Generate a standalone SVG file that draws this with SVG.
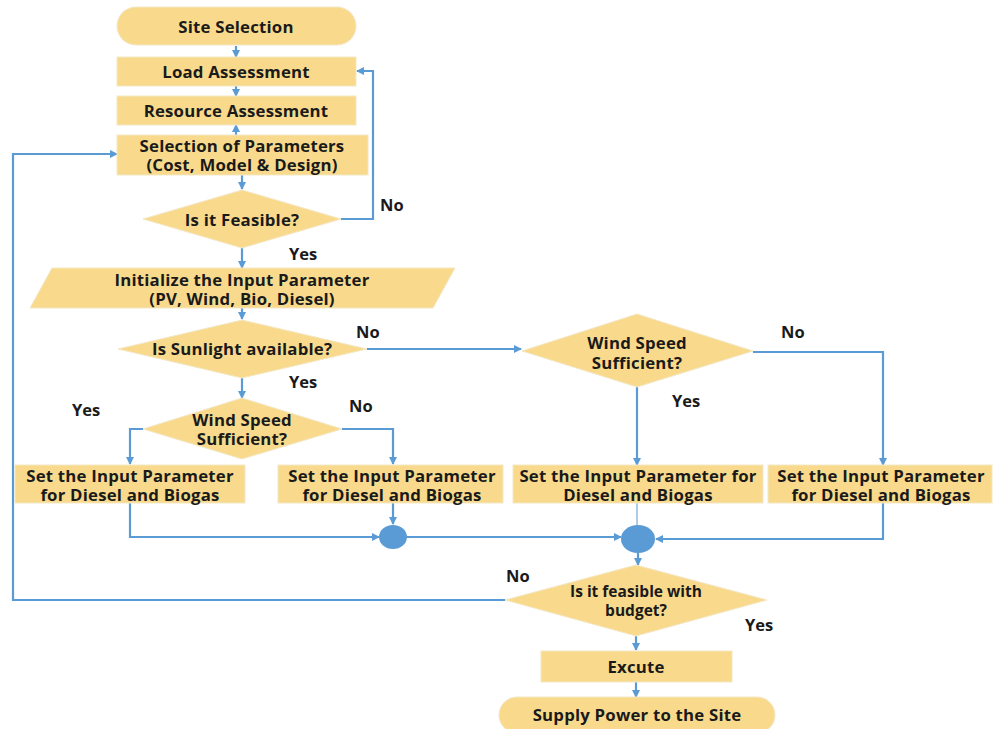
<svg xmlns="http://www.w3.org/2000/svg" width="994" height="729" viewBox="0 0 994 729">
<defs>
<marker id="ah" markerWidth="8" markerHeight="8" refX="7" refY="4" orient="auto" markerUnits="userSpaceOnUse">
<path d="M0,0 L8,4 L0,8 z" fill="#5B9BD5"/>
</marker>
<style>
.n{fill:#F9DA8C;stroke:#F3E7C6;stroke-width:1}
.t{font-family:"Open Sans","Liberation Sans",sans-serif;font-weight:700;font-size:16.8px;letter-spacing:0.2px;fill:#1a1a1a;text-anchor:middle;dominant-baseline:central}
.b{font-size:15.5px;letter-spacing:0}
.l{font-family:"Open Sans","Liberation Sans",sans-serif;font-weight:700;font-size:16.5px;fill:#1a1a1a;dominant-baseline:central}
.c{fill:none;stroke:#5B9BD5;stroke-width:2.2;marker-end:url(#ah)}
.cn{fill:none;stroke:#5B9BD5;stroke-width:2.2}
.dot{fill:#5B9BD5}
</style>
</defs>
<rect width="994" height="729" fill="#fff"/>
<g id="connectors">
<path class="c" d="M236,46 V57"/>
<path class="c" d="M236,86 V96"/>
<path class="c" d="M236,135 V125"/>
<path class="c" d="M242,175 V189"/>
<path class="c" d="M341,219 H373 V71 H357"/>
<path class="c" d="M242,248 V268"/>
<path class="c" d="M242,308 V319"/>
<path class="c" d="M367,349 H521"/>
<path class="c" d="M242,378 V398"/>
<path class="c" d="M143,429 H130 V464"/>
<path class="c" d="M342,429 H393 V464"/>
<path class="c" d="M637,387 V465"/>
<path class="c" d="M753,352 H883 V465"/>
<path class="c" d="M130,503 V537 H379"/>
<path class="c" d="M393,503 V524"/>
<path class="c" d="M406,537 H621"/>
<path class="cn" d="M637,503 V525" style="stroke-width:1"/>
<path class="c" d="M883,503 V539 H656"/>
<path class="c" d="M638,553 V565"/>
<path class="c" d="M505,600 H13 V154 H117"/>
<path class="c" d="M636,636 V650"/>
<path class="c" d="M636,682 V697"/>
</g>
<g id="site-selection"><rect class="n" x="117" y="7" width="239" height="38" rx="19"/><text class="t" x="236" y="26">Site Selection</text></g>
<g id="load-assessment"><rect class="n" x="117" y="57" width="239" height="29"/><text class="t" x="236" y="71">Load Assessment</text></g>
<g id="resource-assessment"><rect class="n" x="117" y="96" width="239" height="29"/><text class="t" x="236" y="110">Resource Assessment</text></g>
<g id="selection-parameters"><rect class="n" x="117" y="135" width="251" height="40"/><text class="t" x="242" y="145">Selection of Parameters</text><text class="t" x="242" y="164">(Cost, Model &amp; Design)</text></g>
<g id="feasible"><polygon class="n" points="242,190 341,219 242,248 143,219"/><text class="t" x="242" y="219">Is it Feasible?</text></g>
<g id="initialize"><polygon class="n" points="52,268 455,268 433,308 30,308"/><text class="t" x="242" y="279">Initialize the Input Parameter</text><text class="t" x="242" y="298">(PV, Wind, Bio, Diesel)</text></g>
<g id="sunlight"><polygon class="n" points="242,320 367,349 242,378 118,349"/><text class="t" x="242" y="348">Is Sunlight available?</text></g>
<g id="wind1"><polygon class="n" points="242,398 342,429 242,459 143,429"/><text class="t" x="242" y="419">Wind Speed</text><text class="t" x="242" y="438">Sufficient?</text></g>
<g id="wind2"><polygon class="n" points="637,314 753,351 637,387 522,351"/><text class="t" x="637" y="342">Wind Speed</text><text class="t" x="637" y="362">Sufficient?</text></g>
<g id="set-a"><rect class="n" x="15" y="465" width="230" height="38"/><text class="t" x="130" y="475">Set the Input Parameter</text><text class="t" x="130" y="494">for Diesel and Biogas</text></g>
<g id="set-b"><rect class="n" x="278" y="465" width="225" height="38"/><text class="t" x="392" y="475">Set the Input Parameter</text><text class="t" x="392" y="494">for Diesel and Biogas</text></g>
<g id="set-c"><rect class="n" x="513" y="465" width="250" height="38"/><text class="t" x="638" y="475">Set the Input Parameter for</text><text class="t" x="638" y="494">Diesel and Biogas</text></g>
<g id="set-d"><rect class="n" x="768" y="465" width="224" height="38"/><text class="t" x="881" y="475">Set the Input Parameter</text><text class="t" x="881" y="494">for Diesel and Biogas</text></g>
<g id="merge1"><ellipse class="dot" cx="393" cy="537" rx="14" ry="12"/></g>
<g id="merge2"><ellipse class="dot" cx="638" cy="539" rx="17" ry="14"/></g>
<g id="budget"><polygon class="n" points="636,565 767,600 636,636 505,600"/><text class="t b" x="636" y="591">Is it feasible with</text><text class="t b" x="636" y="610">budget?</text></g>
<g id="execute"><rect class="n" x="541" y="651" width="191" height="31"/><text class="t" x="636" y="666">Excute</text></g>
<g id="supply"><rect class="n" x="499" y="697" width="276" height="36" rx="18"/><text class="t" x="637" y="714">Supply Power to the Site</text></g>
<g id="labels">
<text class="l" x="380" y="204">No</text>
<text class="l" x="289" y="253">Yes</text>
<text class="l" x="356" y="331">No</text>
<text class="l" x="289" y="381">Yes</text>
<text class="l" x="72" y="409">Yes</text>
<text class="l" x="349" y="405">No</text>
<text class="l" x="672" y="400">Yes</text>
<text class="l" x="781" y="331">No</text>
<text class="l" x="506" y="575">No</text>
<text class="l" x="745" y="624">Yes</text>
</g>
</svg>
